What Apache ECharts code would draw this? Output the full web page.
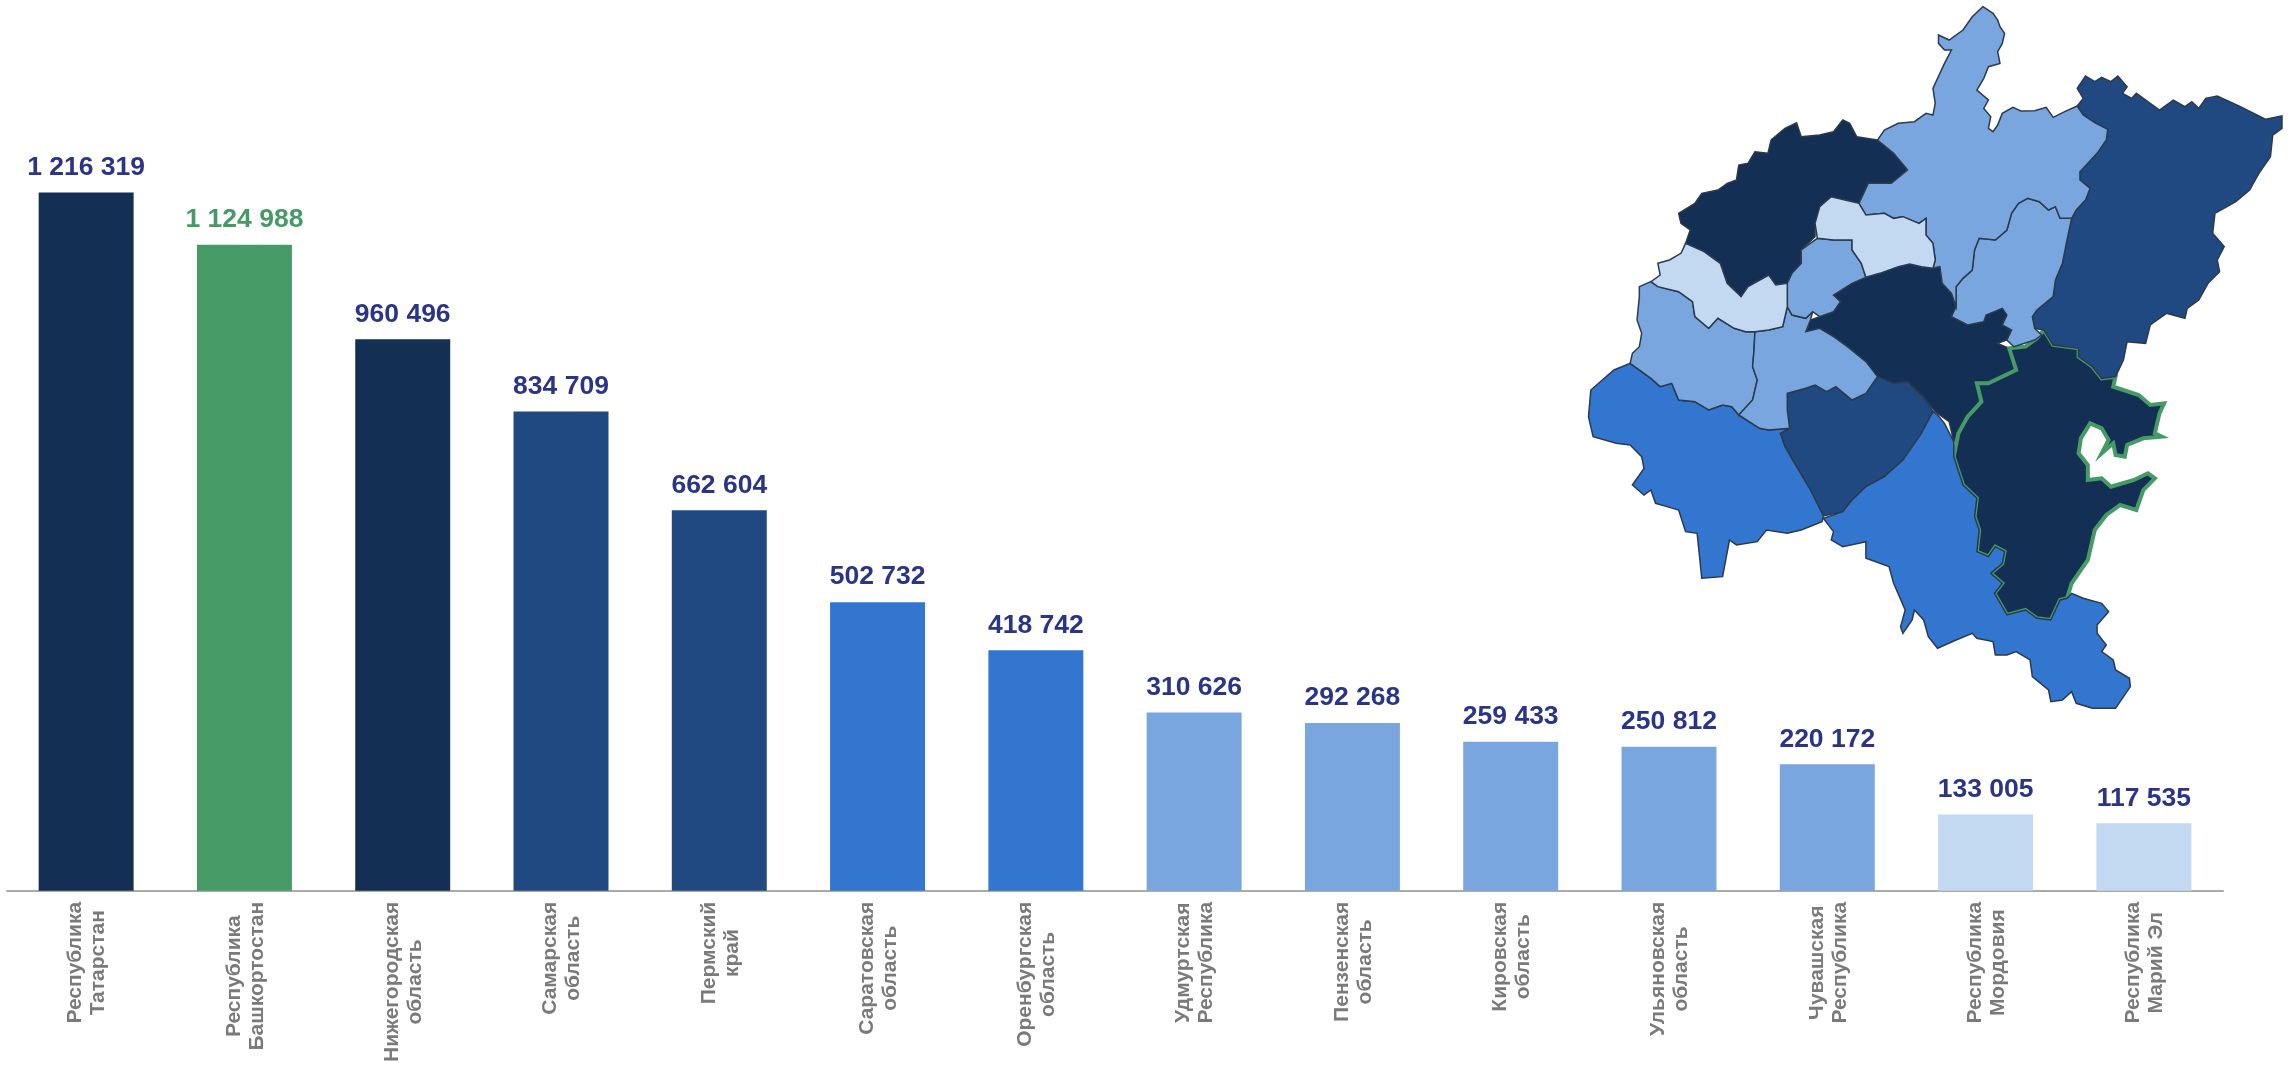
<!DOCTYPE html>
<html>
<head>
<meta charset="utf-8">
<title>Регионы</title>
<script src="https://cdn.jsdelivr.net/npm/echarts@6/dist/echarts.min.js"></script>
<style>
  html, body { margin: 0; padding: 0; background: #ffffff; }
  #chart { width: 2295px; height: 1065px; }
</style>
</head>
<body>
<div id="chart"></div>
<script>
// подписи и значения
const categories = [
  'Республика\nТатарстан', 'Республика\nБашкортостан', 'Нижегородская\nобласть', 'Самарская\nобласть',
  'Пермский\nкрай', 'Саратовская\nобласть', 'Оренбургская\nобласть', 'Удмуртская\nРеспублика',
  'Пензенская\nобласть', 'Кировская\nобласть', 'Ульяновская\nобласть', 'Чувашская\nРеспублика',
  'Республика\nМордовия', 'Республика\nМарий Эл'
];
const values = [1216319, 1124988, 960496, 834709, 662604, 502732, 418742, 310626, 292268, 259433, 250812, 220172, 133005, 117535];
const barColors = ['#142f54', '#459a66', '#142f54', '#1f4980', '#1f4980', '#3276cf', '#3276cf', '#7aa6df', '#7aa6df', '#7aa6df', '#7aa6df', '#7aa6df', '#c3d8f1', '#c3d8f1'];
const labelColors = ['#2a3587', '#459a66', '#2a3587', '#2a3587', '#2a3587', '#2a3587', '#2a3587', '#2a3587', '#2a3587', '#2a3587', '#2a3587', '#2a3587', '#2a3587', '#2a3587'];
const mapColors = ['#142f54', '#142f54', '#142f54', '#1f4980', '#1f4980', '#3276cf', '#3276cf', '#7aa6df', '#7aa6df', '#7aa6df', '#7aa6df', '#7aa6df', '#c3d8f1', '#c3d8f1'];

// контуры регионов для карты (единицы трассировки)
const tatarstan = [[640,832],[670,820],[710,800],[735,792],[760,800],[785,805],[800,800],[805,850],[825,880],[835,920],[825,950],[860,975],[895,965],[900,945],[935,925],[945,945],[935,975],[955,990],[945,1020],[925,1030],[950,1045],[965,1060],[970,1110],[945,1120],[905,1145],[880,1148],[885,1205],[860,1250],[840,1300],[830,1325],[820,1265],[790,1235],[770,1200],[730,1145],[700,1150],[665,1130],[640,1085],[600,1040],[570,1010],[540,985],[510,995],[520,960],[540,950],[570,935],[585,905],[570,885],[610,850]];
const bashkortostan = [[1025,990],[1045,1035],[1100,1045],[1100,1070],[1130,1100],[1150,1135],[1180,1130],[1175,1160],[1230,1185],[1255,1215],[1285,1210],[1275,1240],[1265,1300],[1280,1310],[1240,1315],[1205,1335],[1200,1370],[1180,1365],[1175,1330],[1150,1360],[1165,1320],[1150,1285],[1125,1270],[1105,1315],[1100,1360],[1120,1395],[1120,1440],[1150,1435],[1170,1460],[1220,1440],[1250,1420],[1265,1435],[1240,1470],[1225,1530],[1190,1515],[1160,1545],[1135,1590],[1120,1680],[1085,1750],[1075,1795],[1060,1800],[1040,1860],[1010,1855],[985,1830],[945,1845],[918,1780],[935,1750],[910,1720],[935,1690],[940,1655],[920,1640],[905,1670],[880,1655],[885,1590],[875,1550],[880,1495],[850,1455],[830,1370],[840,1300],[860,1250],[890,1205],[880,1150],[905,1150],[965,1110],[950,1045],[985,1040],[1010,1015]];
const nizhny = [[665,420],[620,410],[605,370],[590,360],[570,395],[540,405],[500,410],[490,368],[465,385],[435,420],[428,460],[400,455],[385,490],[365,495],[360,540],[340,550],[320,570],[285,580],[270,610],[235,640],[240,670],[260,690],[250,730],[290,755],[325,790],[340,850],[370,890],[385,860],[430,825],[445,855],[470,850],[480,820],[500,790],[500,750],[530,710],[530,670],[540,620],[565,590],[625,610],[645,550],[695,550],[730,510],[700,460]];
const samara = [[470,1180],[510,1165],[530,1155],[555,1175],[575,1160],[610,1200],[640,1180],[665,1130],[700,1150],[730,1145],[770,1200],[785,1235],[760,1300],[720,1380],[680,1430],[640,1460],[610,1500],[590,1535],[548,1548],[520,1470],[490,1400],[465,1340],[455,1300],[475,1285],[470,1230]];
const perm = [[1097,265],[1115,228],[1135,245],[1150,232],[1170,245],[1185,228],[1205,260],[1195,280],[1215,295],[1225,280],[1275,330],[1305,300],[1330,320],[1345,305],[1360,325],[1375,295],[1400,288],[1450,320],[1505,358],[1540,348],[1540,385],[1520,405],[1515,470],[1490,520],[1470,570],[1440,605],[1395,640],[1390,700],[1415,740],[1400,780],[1405,815],[1380,850],[1360,900],[1335,925],[1330,955],[1290,940],[1255,975],[1245,1030],[1205,1025],[1197,1080],[1180,1130],[1150,1135],[1130,1100],[1100,1070],[1100,1045],[1045,1035],[1025,990],[1005,985],[1000,950],[1010,930],[1045,890],[1050,840],[1065,790],[1075,720],[1085,655],[1095,630],[1115,600],[1125,565],[1103,540],[1103,515],[1120,490],[1140,460],[1160,420],[1163,388],[1135,368],[1110,345],[1097,318],[1110,295]];
const saratov = [[130,1090],[175,1135],[195,1160],[220,1150],[235,1200],[270,1205],[300,1230],[330,1215],[350,1220],[365,1245],[410,1285],[430,1290],[475,1285],[455,1300],[465,1340],[490,1400],[520,1470],[548,1548],[545,1565],[500,1590],[470,1600],[425,1590],[405,1625],[360,1635],[345,1620],[330,1730],[285,1735],[275,1600],[250,1595],[235,1530],[210,1520],[185,1510],[175,1470],[160,1485],[135,1455],[160,1405],[155,1370],[130,1335],[100,1330],[50,1310],[40,1250],[45,1170],[95,1110]];
const orenburg = [[795,1245],[810,1270],[830,1325],[830,1370],[850,1455],[880,1495],[875,1550],[885,1590],[880,1655],[905,1670],[920,1640],[940,1655],[935,1690],[910,1720],[935,1750],[918,1780],[945,1845],[985,1830],[1010,1855],[1040,1860],[1060,1800],[1075,1795],[1085,1780],[1110,1795],[1150,1810],[1165,1835],[1140,1875],[1140,1900],[1160,1935],[1150,1955],[1175,1980],[1180,2010],[1210,2035],[1212,2060],[1180,2125],[1130,2125],[1095,2110],[1085,2075],[1065,2100],[1040,2105],[1035,2070],[1000,2030],[995,1980],[965,1955],[945,1965],[920,1965],[915,1925],[880,1915],[870,1900],[835,1920],[795,1945],[775,1910],[765,1860],[745,1830],[740,1860],[720,1900],[715,1880],[725,1830],[700,1750],[690,1700],[640,1675],[640,1625],[590,1640],[565,1620],[570,1595],[548,1555],[590,1535],[610,1500],[640,1460],[680,1430],[720,1380],[760,1300],[785,1235]];
const udmurtia = [[990,595],[1015,605],[1035,630],[1050,620],[1060,655],[1085,655],[1075,720],[1065,790],[1050,840],[1045,890],[1010,930],[1000,950],[1005,985],[1020,1005],[1005,1020],[960,1040],[945,1020],[955,990],[935,975],[945,945],[935,925],[900,945],[895,965],[860,975],[825,950],[835,920],[835,860],[850,835],[870,810],[875,750],[885,715],[920,720],[945,690],[955,640],[970,610]];
const penza = [[150,860],[175,845],[190,860],[235,875],[265,905],[270,950],[300,985],[320,955],[355,985],[380,995],[400,995],[398,1050],[395,1100],[405,1140],[395,1200],[365,1245],[350,1220],[330,1215],[300,1230],[270,1205],[235,1200],[220,1150],[195,1160],[175,1135],[130,1090],[135,1060],[150,1040],[155,1000],[145,960],[150,890]];
const kirov = [[893,20],[915,40],[925,60],[930,80],[940,100],[935,130],[925,155],[930,190],[905,200],[895,235],[880,270],[905,300],[895,325],[910,350],[905,385],[915,395],[925,375],[935,340],[958,322],[975,333],[1005,332],[1030,322],[1045,352],[1070,335],[1097,318],[1110,345],[1135,368],[1163,388],[1160,420],[1140,460],[1120,490],[1103,515],[1103,540],[1125,565],[1115,600],[1095,630],[1085,655],[1060,655],[1050,620],[1035,630],[1015,605],[990,595],[970,610],[955,640],[945,690],[920,720],[885,715],[875,750],[870,810],[850,835],[835,860],[835,920],[825,880],[805,850],[800,800],[785,805],[790,780],[785,730],[770,705],[770,655],[755,670],[720,650],[700,655],[680,640],[640,645],[625,610],[645,550],[695,550],[730,510],[700,460],[665,420],[680,390],[710,370],[745,365],[770,340],[785,345],[790,310],[785,265],[800,220],[810,190],[825,150],[810,150],[797,130],[797,105],[820,120],[850,90],[870,50]];
const ulyanovsk = [[400,995],[430,990],[460,980],[470,920],[480,945],[510,955],[525,935],[520,960],[510,995],[540,985],[570,1010],[600,1040],[640,1085],[665,1130],[640,1180],[610,1200],[575,1160],[555,1175],[530,1155],[510,1165],[470,1180],[470,1230],[475,1285],[430,1290],[410,1285],[365,1245],[395,1200],[405,1140],[395,1100],[398,1050]];
const chuvashia = [[535,715],[570,720],[610,720],[610,750],[630,790],[640,832],[610,850],[570,885],[585,905],[570,935],[540,950],[525,935],[510,955],[480,945],[470,920],[470,850],[480,820],[500,790],[500,750]];
const mordovia = [[250,730],[290,755],[325,790],[340,850],[370,890],[385,860],[430,825],[445,855],[470,850],[470,920],[460,980],[430,990],[400,995],[380,995],[355,985],[320,955],[300,985],[270,950],[265,905],[235,875],[190,860],[175,845],[195,825],[190,790],[215,780],[240,760]];
const mariEl = [[565,590],[625,610],[640,645],[680,640],[700,655],[720,650],[755,670],[770,655],[770,705],[785,730],[790,780],[785,805],[760,800],[735,792],[710,800],[670,820],[640,832],[630,790],[610,750],[610,720],[570,720],[535,715],[530,670],[540,620]];
const mapShapes = [tatarstan, bashkortostan, nizhny, samara, perm, saratov, orenburg, udmurtia, penza, kirov, ulyanovsk, chuvashia, mordovia, mariEl];

const geoJson = {
  type: 'FeatureCollection',
  features: categories.map((name, i) => ({
    type: 'Feature',
    properties: {name: name},
    geometry: {type: 'Polygon', coordinates: [mapShapes[i].concat([mapShapes[i][0]])]}
  }))
};
echarts.registerMap('regions', geoJson);

const myChart = echarts.init(document.getElementById('chart'));

// башкирия рисуется последней, чтобы зеленый контур был сверху
const mapData = categories.map((name, i) => ({
  name: name,
  value: values[i],
  itemStyle: {
    areaColor: mapColors[i],
    borderColor: i === 1 ? '#459a66' : '#2b3a4d',
    borderWidth: i === 1 ? 4 : 1.5
  }
}));

myChart.setOption({
  backgroundColor: '#ffffff',
  animation: false,
  grid: {left: 7, right: 72, top: 86.94, bottom: 173.5},
  xAxis: {
    type: 'category',
    data: categories,
    axisLine: {lineStyle: {color: '#aaaaaa', width: 2}},
    axisTick: {show: false},
    axisLabel: {
      interval: 0,
      rotate: 90,
      margin: 11,
      padding: [2, 0, 0, 0],
      // строки центрируются внутри блока, блок прижат к оси
      formatter: v => v.split('\n').map(s => '{c|' + s + '}').join('\n'),
      rich: {
        c: {
          align: 'center',
          fontFamily: 'Liberation Sans',
          fontWeight: 'bold',
          fontSize: 21,
          lineHeight: 23,
          color: '#7a7a7a'
        }
      }
    }
  },
  yAxis: {type: 'value', min: 0, max: 1400000, show: false},
  series: [
    {
      type: 'bar',
      barWidth: '60%',
      data: values.map((v, i) => ({
        value: v,
        itemStyle: {color: barColors[i]},
        label: {color: labelColors[i]}
      })),
      label: {
        show: true,
        position: 'top',
        distance: 11.5,
        fontFamily: 'Liberation Sans',
        fontWeight: 'bold',
        fontSize: 26.5,
        formatter: p => String(p.value).replace(/\B(?=(\d{3})+$)/g, ' ')
      }
    },
    {
      type: 'map',
      map: 'regions',
      silent: true,
      roam: false,
      left: 1588.5,
      top: 6.7,
      width: 693.5,
      height: 701.6,
      // пересчет единиц трассировки в пиксели
      projection: {
        project: c => [1570 + c[0] / 2.163, c[1] / 3],
        unproject: c => [(c[0] - 1570) * 2.163, c[1] * 3]
      },
      label: {show: false},
      emphasis: {disabled: true},
      select: {disabled: true},
      data: [1, 2, 3, 4, 5, 6, 7, 8, 9, 10, 11, 12, 13, 0].map(i => mapData[i])
    }
  ]
});
</script>
</body>
</html>
